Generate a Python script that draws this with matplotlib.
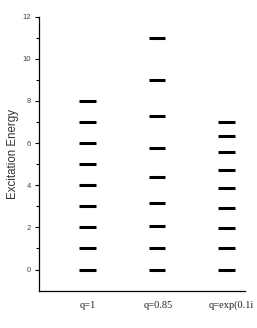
import matplotlib
matplotlib.use("Agg")
import matplotlib.pyplot as plt

plt.rcParams["font.family"] = ["Liberation Sans", "DejaVu Sans"]

# energy levels
labels = ["q=1", "q=0.85", "q=exp(0.1i"]
lev_q1 = [0, 1, 2, 3, 4, 5, 6, 7, 8]
lev_q085 = [0, 1.0, 2.07, 3.18, 4.4, 5.77, 7.28, 9.0, 10.98]
lev_qexp = [0, 1.0, 1.98, 2.93, 3.87, 4.74, 5.56, 6.32, 7.02]
levels = [lev_q1, lev_q085, lev_qexp]
label_x = [1.0, 2.02, 3.07]

fig = plt.figure(figsize=(2.57, 3.28), dpi=100)
ax = fig.add_axes([0.152, 0.114, 0.80, 0.835])

half = 0.12
for i, lev in enumerate(levels):
    x = i + 1
    ax.hlines(lev, x - half, x + half, colors="black", linewidth=2.2)

ax.set_xlim(0.3, 3.26)
ax.set_ylim(-1, 12)
ax.set_yticks([0, 2, 4, 6, 8, 10, 12])
ax.set_yticks([1, 3, 5, 7, 9, 11], minor=True)
ax.set_xticks([])
ax.tick_params(axis="y", which="major", direction="out", length=3, width=0.8,
               labelsize=5.5, labelcolor="#444444", pad=3)
ax.tick_params(axis="y", which="minor", direction="out", length=2, width=0.8)
for s in ["top", "right"]:
    ax.spines[s].set_visible(False)
for s in ["left", "bottom"]:
    ax.spines[s].set_linewidth(0.9)

ax.set_ylabel("Excitation Energy", fontsize=8.3, color="#333333", labelpad=2)

# category names under the axis
for lx, lab in zip(label_x, labels):
    ax.text(lx, -1.7, lab, ha="center", va="center", fontsize=7.5,
            family="Liberation Serif", color="#222222")

fig.savefig("out.png", dpi=100)
